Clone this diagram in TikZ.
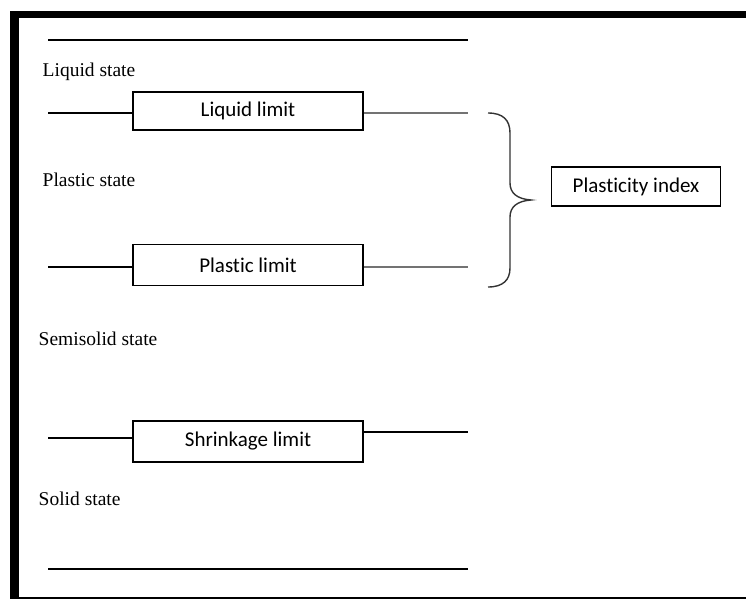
\documentclass[tikz,border=0pt]{standalone}
\usepackage{fontspec}
\setmainfont{Liberation Serif}
\newfontfamily\boxfont[RawFeature=-liga]{Carlito}
\begin{document}
\begin{tikzpicture}[x=1pt,y=-1pt,
  limitbox/.style={draw=black,line width=1.8pt,minimum width=230pt,inner sep=0pt,font=\boxfont\fontsize{21}{25}\selectfont},
  statelabel/.style={anchor=west,inner sep=0pt,font=\fontsize{19.5}{23}\selectfont},
  levelline/.style={line width=1.3pt,black},
  greyline/.style={line width=1.5pt,black!55}]
\useasboundingbox (0,0) rectangle (746,599);
% frame
\fill (10,11) rectangle (19,599);
\fill (10,11) rectangle (746,18.5);
\fill (10,596.5) rectangle (746,599);
% boxes
\node[limitbox,minimum height=38pt] (ll) at (248,111) {Liquid limit};
\node[limitbox,minimum height=41pt] (pl) at (248,265) {Plastic limit};
\node[limitbox,minimum height=41pt] (sl) at (248,441.5) {Shrinkage limit};
\node[draw=black,line width=1.5pt,minimum width=169pt,minimum height=39pt,inner sep=0pt,font=\boxfont\fontsize{21}{25}\selectfont] (pi) at (636,186.5) {Plasticity index};
% state labels
\node[statelabel] (ls) at (42.5,72) {Liquid state};
\node[statelabel] (ps) at (42.5,180) {Plastic state};
\node[statelabel] (ss) at (38.5,339) {Semisolid state};
\node[statelabel] (so) at (38.5,499) {Solid state};
% coordinates for free line ends
\coordinate (t1) at (48,40);
\coordinate (t2) at (468,40);
\coordinate (la) at (48,113);
\coordinate (lb) at (468,113);
\coordinate (pa) at (48,267);
\coordinate (pb) at (468,267);
\coordinate (sa) at (48,438);
\coordinate (sb) at (468,432);
\coordinate (b1) at (48,569);
\coordinate (b2) at (468,569);
% lines
\draw[levelline] (t1) -- (t2);
\draw[levelline] (la) -- (la -| ll.west);
\draw[greyline] (ll.east |- lb) -- (lb);
\draw[levelline] (pa) -- (pa -| pl.west);
\draw[greyline] (pl.east |- pb) -- (pb);
\draw[levelline] (sa) -- (sa -| sl.west);
\draw[line width=1.8pt] (sl.east |- sb) -- (sb);
\draw[line width=2pt] (b1) -- (b2);
% brace
\coordinate (bt) at (488,113);
\coordinate (bb) at (488,287);
\coordinate (tip) at (531,200);
\draw[line width=1.4pt,black!80] (bt) .. controls (503,113) and (510,120) .. (510,133) -- (510,183)
  .. controls (510,193) and (517,199) .. (tip)
  .. controls (517,201) and (510,207) .. (510,217) -- (510,268)
  .. controls (510,280) and (503,287) .. (bb);
\end{tikzpicture}
\end{document}
